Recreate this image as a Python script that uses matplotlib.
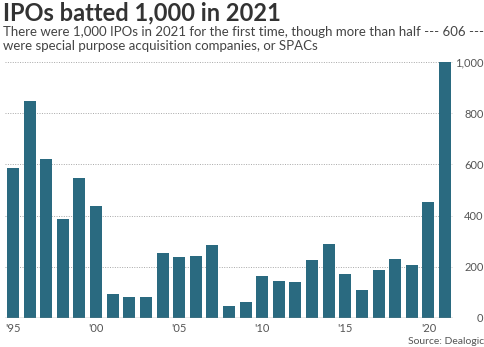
import matplotlib
matplotlib.use("Agg")
import matplotlib.pyplot as plt
import numpy as np

# IPO counts per year
years = list(range(1995, 2022))
ipos = [585, 849, 620, 388, 546, 438, 94, 83, 81, 255, 238, 242, 286,
        48, 61, 166, 143, 142, 226, 290, 172, 108, 187, 230, 208, 455, 1000]
xtick_years = [1995, 2000, 2005, 2010, 2015, 2020]
xtick_labels = ["'95", "'00", "'05", "'10", "'15", "'20"]
ytick_vals = [0, 200, 400, 600, 800, 1000]
ytick_labels = ["0", "200", "400", "600", "800", "1,000"]

plt.rcParams['font.family'] = ['Lato', 'DejaVu Sans']

fig = plt.figure(figsize=(4.85, 3.47), dpi=100)
ax = fig.add_axes([5 / 485, 29 / 347, 448 / 485, 256 / 347])

ax.bar(years, ipos, width=0.72, color='#2a6a80', zorder=3)

ax.set_xlim(1994.52, 2021.48)
ax.set_ylim(0, 1000)

for v in ytick_vals[1:]:
    ax.axhline(v, color='#a8a8a8', linewidth=0.7, linestyle=(0, (1, 1.5)), zorder=1)
ax.axhline(0, color='#8a8a8a', linewidth=1.0, zorder=4)

for s in ax.spines.values():
    s.set_visible(False)

ax.set_xticks(xtick_years)
ax.set_xticklabels(xtick_labels, fontsize=8, color='#555555')
ax.tick_params(axis='x', length=0, pad=3.5)

ax.yaxis.tick_right()
ax.set_yticks(ytick_vals)
ax.set_yticklabels(ytick_labels, fontsize=8, color='#555555', ha='right')
ax.tick_params(axis='y', length=0, pad=22)

fig.text(3 / 485, 1 - 1 / 347, "IPOs batted 1,000 in 2021", fontsize=17,
         fontweight='bold', color='#333333', ha='left', va='top')
fig.text(3 / 485, 1 - 26 / 347,
         "There were 1,000 IPOs in 2021 for the first time, though more than half --- 606 ---\n"
         "were special purpose acquisition companies, or SPACs",
         fontsize=9.5, color='#444444', ha='left', va='top', linespacing=1.15)
fig.text(0.998, 1 - 341 / 347, "Source: Dealogic", fontsize=7.5, color='#555555',
         ha='right', va='center')

fig.savefig("out.png", dpi=100)
